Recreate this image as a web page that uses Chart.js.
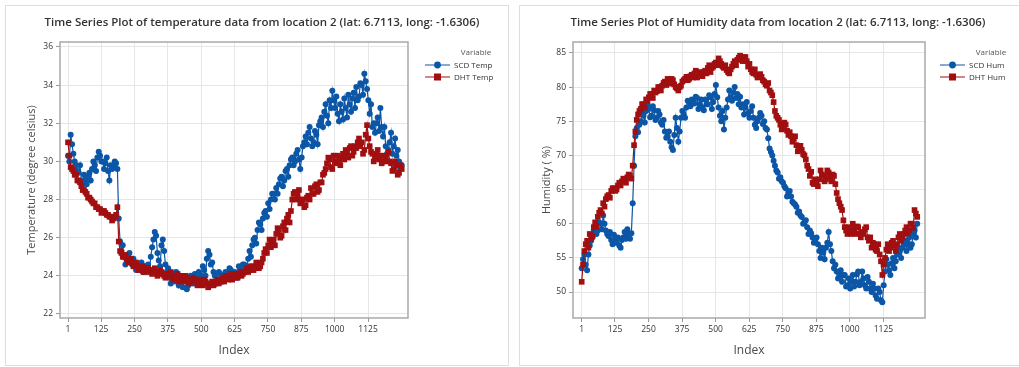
<!DOCTYPE html>
<html>
<head>
<meta charset="utf-8">
<script src="https://cdn.jsdelivr.net/npm/chart.js@4.4.1/dist/chart.umd.min.js"></script>
<style>
  html, body { margin: 0; padding: 0; background: #fff; }
  body { width: 1019px; height: 367px; position: relative; overflow: hidden; }
  .frame { position: absolute; border: 1px solid #dedede; }
  canvas { position: absolute; top: 0; }
</style>
</head>
<body>
<div class="frame" style="left:5px;top:5px;width:502px;height:359px"></div>
<div class="frame" style="left:519px;top:5px;width:505px;height:359px"></div>
<canvas id="tempChart" width="512" height="367" style="left:0"></canvas>
<canvas id="humChart" width="503" height="367" style="left:516px"></canvas>
<script>
// readings every 5th index, estimated off the plot
const indexValues = [
  1, 6, 11, 16, 21, 26, 31, 36, 41, 46,
  51, 56, 61, 66, 71, 76, 81, 86, 91, 96,
  101, 106, 111, 116, 121, 126, 131, 136, 141, 146,
  151, 156, 161, 166, 171, 176, 181, 186, 191, 196,
  201, 206, 211, 216, 221, 226, 231, 236, 241, 246,
  251, 256, 261, 266, 271, 276, 281, 286, 291, 296,
  301, 306, 311, 316, 321, 326, 331, 336, 341, 346,
  351, 356, 361, 366, 371, 376, 381, 386, 391, 396,
  401, 406, 411, 416, 421, 426, 431, 436, 441, 446,
  451, 456, 461, 466, 471, 476, 481, 486, 491, 496,
  501, 506, 511, 516, 521, 526, 531, 536, 541, 546,
  551, 556, 561, 566, 571, 576, 581, 586, 591, 596,
  601, 606, 611, 616, 621, 626, 631, 636, 641, 646,
  651, 656, 661, 666, 671, 676, 681, 686, 691, 696,
  701, 706, 711, 716, 721, 726, 731, 736, 741, 746,
  751, 756, 761, 766, 771, 776, 781, 786, 791, 796,
  801, 806, 811, 816, 821, 826, 831, 836, 841, 846,
  851, 856, 861, 866, 871, 876, 881, 886, 891, 896,
  901, 906, 911, 916, 921, 926, 931, 936, 941, 946,
  951, 956, 961, 966, 971, 976, 981, 986, 991, 996,
  1001, 1006, 1011, 1016, 1021, 1026, 1031, 1036, 1041, 1046,
  1051, 1056, 1061, 1066, 1071, 1076, 1081, 1086, 1091, 1096,
  1101, 1106, 1111, 1116, 1121, 1126, 1131, 1136, 1141, 1146,
  1151, 1156, 1161, 1166, 1171, 1176, 1181, 1186, 1191, 1196,
  1201, 1206, 1211, 1216, 1221, 1226, 1231, 1236, 1241, 1246,
  1251
];

const scdTemp = [
  30.3, 30.0, 31.4, 30.9, 30.4, 30.0, 29.8, 29.5, 29.4, 29.8,
  29.0, 28.8, 29.3, 29.0, 28.8, 29.2, 29.4, 29.0, 29.6, 30.0,
  29.8, 29.5, 30.2, 30.5, 30.3, 30.0, 30.0, 29.6, 29.9, 30.2,
  29.5, 29.0, 29.8, 29.6, 29.7, 30.0, 29.9, 29.6, 27.0, 25.8,
  25.3, 25.6, 25.0, 24.6, 24.8, 25.0, 25.2, 24.7, 24.6, 24.9,
  24.5, 24.3, 24.6, 24.4, 24.3, 24.7, 24.2, 24.5, 24.4, 24.2,
  24.6, 24.3, 25.0, 25.5, 25.9, 26.3, 26.1, 25.2, 24.8, 24.5,
  25.6, 25.9, 25.3, 24.6, 24.2, 24.4, 23.9, 23.6, 24.1, 23.9,
  23.7, 24.2, 23.9, 23.5, 24.0, 23.7, 23.4, 23.8, 23.8, 23.3,
  23.5, 23.9, 24.0, 23.7, 23.6, 24.1, 23.9, 23.6, 24.2, 23.8,
  24.0, 24.5, 24.3, 24.0, 24.9, 25.3, 25.1, 24.6, 24.7, 24.2,
  24.0, 23.6, 23.8, 24.2, 24.1, 23.8, 23.7, 24.0, 24.2, 23.9,
  24.0, 24.4, 24.3, 24.0, 23.9, 24.2, 24.1, 23.9, 24.5, 24.3,
  24.2, 24.6, 24.6, 24.2, 24.4, 24.9, 25.3, 25.0, 25.6, 25.9,
  26.0, 25.7, 26.4, 26.8, 26.7, 26.4, 27.0, 27.3, 27.4, 27.1,
  27.8, 27.5, 28.0, 28.3, 28.3, 28.0, 28.6, 28.3, 28.8, 29.1,
  29.2, 28.7, 29.0, 29.5, 29.6, 29.2, 29.8, 30.1, 30.2, 29.8,
  30.0, 30.4, 30.6, 30.1, 29.6, 30.2, 30.8, 31.0, 31.3, 30.9,
  31.5, 31.8, 31.2, 30.8, 31.0, 31.6, 31.4, 30.9, 31.9, 32.1,
  32.3, 31.8, 32.6, 33.0, 32.4, 32.0, 33.2, 32.8, 33.7, 33.2,
  32.8, 33.4, 32.5, 32.1, 33.0, 32.6, 32.2, 33.3, 32.8, 32.3,
  33.5, 33.0, 32.6, 33.3, 33.6, 32.8, 33.9, 33.2, 33.4, 34.1,
  34.0, 33.5, 34.6, 34.2, 33.8, 33.2, 32.5, 33.0, 31.8, 32.0,
  31.5, 32.0, 32.3, 31.6, 32.8, 31.8, 31.3, 31.8, 30.8, 30.4,
  30.6, 31.0, 31.5, 30.4, 30.8, 31.2, 30.3, 30.6, 30.0, 29.6,
  29.8
];

const dhtTemp = [
  31.0, 30.3, 29.7, 29.6, 29.5, 29.3, 29.3, 29.0, 29.0, 28.9,
  28.7, 28.5, 28.5, 28.4, 28.3, 28.1, 28.1, 28.0, 27.9, 27.8,
  27.8, 27.6, 27.6, 27.5, 27.5, 27.3, 27.4, 27.4, 27.3, 27.2,
  27.2, 27.1, 27.1, 26.9, 27.0, 27.1, 27.2, 27.6, 25.8, 25.3,
  25.2, 25.0, 25.0, 25.1, 24.9, 24.7, 24.8, 24.9, 24.7, 24.5,
  24.6, 24.7, 24.5, 24.3, 24.4, 24.5, 24.5, 24.2, 24.3, 24.4,
  24.4, 24.3, 24.2, 24.1, 24.3, 24.4, 24.2, 24.0, 24.1, 24.3,
  24.2, 24.1, 24.0, 23.9, 24.1, 24.0, 24.0, 24.2, 23.9, 23.8,
  24.0, 23.9, 24.1, 23.7, 23.8, 24.0, 23.9, 23.7, 24.0, 23.9,
  23.8, 23.6, 23.7, 23.8, 23.9, 23.7, 23.8, 23.5, 23.6, 23.8,
  23.7, 23.5, 23.8, 23.7, 23.6, 23.4, 23.5, 23.6, 23.7, 23.5,
  23.6, 23.7, 23.8, 23.6, 23.7, 23.8, 23.9, 23.7, 24.0, 23.9,
  23.8, 24.0, 24.1, 23.8, 23.9, 24.1, 24.0, 23.9, 24.1, 24.2,
  24.0, 24.1, 24.2, 24.3, 24.4, 24.2, 24.3, 24.5, 24.5, 24.3,
  24.4, 24.7, 24.6, 24.4, 24.5, 24.7, 24.9, 25.2, 25.4, 25.2,
  25.6, 25.9, 25.5, 25.8, 25.9, 25.6, 26.2, 26.5, 26.4, 26.0,
  26.1, 26.6, 26.8, 26.4, 27.0, 27.2, 26.8, 27.4, 28.0, 28.3,
  28.4, 28.0, 28.2, 28.5, 27.8, 28.0, 28.0, 27.6, 27.7, 28.1,
  28.2, 28.0, 28.6, 28.3, 28.3, 28.7, 28.8, 28.4, 28.5, 28.9,
  28.9, 29.3, 29.4, 29.6, 29.9, 30.2, 30.1, 29.7, 29.6, 30.3,
  30.0, 29.9, 30.3, 30.0, 29.8, 30.2, 30.4, 30.1, 30.6, 30.4,
  30.2, 30.7, 30.8, 30.3, 30.5, 30.8, 30.7, 31.0, 31.2, 30.8,
  31.0, 30.4, 30.6, 31.4, 31.9, 31.2, 30.8, 30.5, 30.4, 30.0,
  30.2, 30.4, 30.6, 30.1, 30.3, 29.9, 30.0, 30.3, 30.2, 30.0,
  30.5, 30.0, 29.9, 29.5, 29.6, 30.0, 29.8, 29.3, 29.4, 29.8,
  29.6
];

const scdHum = [
  53.5, 54.8, 55.5, 54.0, 53.2, 55.5, 56.8, 57.5, 58.0, 59.0,
  59.5, 58.5, 59.0, 60.2, 60.0, 59.2, 61.2, 60.0, 59.0, 58.5,
  58.2, 58.8, 57.6, 57.0, 58.4, 57.6, 57.2, 58.0, 56.8, 56.5,
  57.6, 58.0, 58.8, 57.8, 59.2, 58.5, 57.8, 58.6, 63.0, 68.5,
  72.8, 74.0, 73.4, 74.5, 75.0, 76.2, 75.8, 74.8, 76.5, 77.5,
  76.8, 75.6, 75.8, 77.2, 76.6, 75.2, 75.5, 76.5, 76.0, 74.8,
  74.5, 75.2, 73.5, 72.6, 72.8, 73.5, 72.0, 71.2, 70.8, 73.0,
  75.5, 74.0, 72.0, 73.5, 75.5, 76.5, 76.0, 75.5, 77.0, 78.0,
  77.8, 77.2, 78.2, 77.8, 77.6, 78.6, 78.4, 76.8, 77.5, 78.2,
  77.0, 76.6, 78.2, 77.5, 77.5, 78.8, 78.5, 76.8, 77.8, 79.0,
  80.3, 78.5, 77.0, 75.8, 75.0, 76.5, 73.8, 75.5, 77.0, 78.2,
  79.5, 78.5, 78.0, 79.2, 80.0, 78.4, 79.0, 77.5, 78.6, 77.0,
  77.5, 76.0, 77.0, 77.8, 76.2, 75.5, 76.5, 77.2, 75.5, 74.5,
  74.0, 75.0, 75.5, 76.2, 75.8, 74.6, 75.0, 74.0, 73.8, 72.5,
  71.0, 70.5, 70.0, 69.2, 68.5, 67.8, 67.5, 66.6, 66.8, 66.2,
  66.0, 65.5, 65.2, 64.0, 64.5, 64.8, 64.0, 63.2, 63.0, 62.8,
  62.5, 61.6, 61.8, 61.2, 61.0, 60.0, 60.2, 60.5, 59.5, 58.5,
  59.0, 58.6, 58.0, 57.2, 57.5, 58.0, 57.0, 56.0, 55.0, 56.5,
  55.8, 54.8, 56.5, 57.2, 58.8, 57.0, 56.0, 54.5, 53.5, 54.0,
  53.0, 52.0, 52.5, 53.2, 51.5, 52.5, 52.5, 50.8, 51.0, 52.0,
  50.5, 51.5, 52.5, 50.8, 51.5, 52.6, 53.0, 51.0, 51.5, 53.0,
  52.0, 51.0, 50.5, 52.2, 51.5, 50.5, 50.0, 51.2, 50.5, 49.5,
  49.0, 50.5, 50.0, 48.8, 48.5, 51.0, 53.0, 54.8, 54.0, 53.2,
  52.5, 54.2, 55.0, 53.5, 54.5, 55.5, 56.5, 56.0, 55.0, 56.5,
  57.0, 57.5, 56.0, 57.0, 58.0, 56.5, 57.0, 58.5, 59.0, 58.0,
  60.0
];

const dhtHum = [
  51.5, 54.0, 56.0, 57.0, 57.5, 56.5, 58.5, 57.8, 58.2, 59.5,
  60.2, 59.6, 61.0, 61.6, 62.0, 61.5, 63.0, 62.5, 63.6, 64.0,
  64.2, 63.8, 64.8, 65.2, 65.2, 64.8, 65.0, 65.6, 66.0, 65.6,
  66.2, 66.6, 66.5, 66.0, 66.8, 67.2, 67.0, 66.6, 68.5, 71.5,
  73.5, 75.2, 76.0, 76.5, 76.8, 77.5, 77.5, 77.0, 78.2, 78.0,
  78.5, 79.0, 79.0, 78.4, 79.5, 79.2, 79.4, 80.0, 80.0, 79.5,
  80.2, 80.6, 80.8, 80.3, 81.2, 80.8, 80.5, 81.2, 81.0, 80.4,
  80.0, 79.8, 79.5, 80.0, 80.2, 80.8, 81.0, 81.2, 81.5, 81.0,
  81.2, 81.6, 81.8, 81.4, 82.0, 82.4, 81.4, 82.0, 82.2, 81.8,
  81.6, 82.2, 82.4, 82.0, 82.8, 83.2, 82.2, 82.8, 83.0, 83.4,
  83.6, 83.2, 84.2, 83.8, 83.4, 83.0, 82.8, 83.2, 82.5, 82.2,
  82.0, 82.6, 83.0, 83.4, 83.8, 83.2, 84.0, 84.3, 84.6, 84.0,
  83.8, 84.4, 84.4, 83.8, 83.0, 83.4, 82.6, 82.2, 82.0, 82.6,
  81.8, 81.4, 81.5, 81.9, 81.5, 81.0, 80.8, 80.4, 80.2, 80.6,
  79.5, 79.2, 78.8, 77.8, 76.5, 75.8, 75.5, 75.2, 74.5, 73.8,
  74.0, 74.8, 74.5, 73.6, 73.0, 73.4, 72.8, 72.0, 72.5, 72.8,
  71.5, 70.6, 71.0, 71.4, 70.8, 70.2, 70.0, 69.4, 68.5, 68.0,
  67.0, 67.6, 66.0, 65.8, 66.5, 65.8, 65.5, 66.5, 67.8, 67.2,
  67.0, 66.2, 66.5, 67.8, 67.5, 66.8, 66.2, 67.2, 67.0, 65.8,
  64.5, 63.6, 63.0, 62.5, 62.0, 60.5, 59.5, 59.0, 58.5, 59.5,
  59.0, 58.5, 60.0, 59.2, 58.5, 59.6, 59.5, 58.6, 58.0, 58.8,
  58.5, 59.2, 59.5, 58.0, 57.5, 58.0, 56.5, 57.2, 57.0, 56.2,
  56.0, 57.0, 55.5, 54.5, 52.5, 54.0, 55.0, 56.2, 57.0, 56.0,
  56.5, 57.2, 57.5, 56.8, 56.0, 57.0, 58.0, 58.5, 57.5, 58.0,
  58.5, 59.0, 59.5, 58.6, 59.0, 60.0, 60.0, 59.4, 62.0, 61.5,
  61.0
];

const xTickLabels = [1, 125, 250, 375, 500, 625, 750, 875, 1000, 1125];
const tempTicks = [22, 24, 26, 28, 30, 32, 34, 36];
const humTicks = [50, 55, 60, 65, 70, 75, 80, 85];

const BLUE = '#0b56a6';
const RED = '#a20f10';

Chart.defaults.font.family = '"Open Sans", sans-serif';

// box round the plot area, title and the "Variable" legend
const panelDecor = {
  id: 'panelDecor',
  afterDraw(chart, args, opts) {
    const { ctx, chartArea: a } = chart;
    ctx.save();
    ctx.strokeStyle = '#a9a9a9';
    ctx.lineWidth = 1.5;
    ctx.strokeRect(a.left, a.top, a.right - a.left, a.bottom - a.top);

    ctx.fillStyle = '#333';
    ctx.font = '600 11.5px "Open Sans"';
    ctx.textAlign = 'center';
    ctx.textBaseline = 'middle';
    ctx.fillText(opts.title, opts.titleX, 23);

    const lx = opts.legendX;
    ctx.font = '8px "Open Sans"';
    ctx.fillStyle = '#555';
    ctx.fillText('Variable', lx + 51, 53);
    ctx.textAlign = 'left';
    chart.data.datasets.forEach((ds, i) => {
      const y = 65 + i * 12;
      ctx.strokeStyle = ds.borderColor;
      ctx.lineWidth = 1;
      ctx.beginPath();
      ctx.moveTo(lx, y);
      ctx.lineTo(lx + 25, y);
      ctx.stroke();
      ctx.fillStyle = ds.borderColor;
      if (ds.pointStyle === 'rect') {
        ctx.fillRect(lx + 9, y - 3.5, 7, 7);
      } else {
        ctx.beginPath();
        ctx.arc(lx + 12.5, y, 3.4, 0, Math.PI * 2);
        ctx.fill();
      }
      ctx.fillStyle = '#333';
      ctx.fillText(ds.label, lx + 29, y + 0.5);
    });
    ctx.restore();
  }
};

function makeChart(id, cfg) {
  const toPoints = arr => indexValues.map((x, i) => ({ x: x, y: arr[i] }));
  return new Chart(document.getElementById(id), {
    type: 'line',
    data: {
      datasets: [
        {
          label: cfg.labels[0],
          data: toPoints(cfg.scd),
          borderColor: BLUE,
          backgroundColor: BLUE,
          borderWidth: 1.2,
          pointStyle: 'circle',
          pointRadius: 3,
          pointBorderWidth: 0,
          order: 2,
        },
        {
          label: cfg.labels[1],
          data: toPoints(cfg.dht),
          borderColor: RED,
          backgroundColor: RED,
          borderWidth: 1.2,
          pointStyle: 'rect',
          pointRadius: 4,
          pointBorderWidth: 0,
          order: 1,
        },
      ],
    },
    options: {
      responsive: false,
      animation: false,
      layout: { padding: { left: cfg.padLeft, right: cfg.padRight, top: 42, bottom: 0 } },
      scales: {
        x: {
          type: 'linear',
          min: cfg.xMin,
          max: cfg.xMax,
          afterBuildTicks: s => { s.ticks = xTickLabels.map(v => ({ value: v })); },
          afterFit: s => { s.height = 49; },
          ticks: { color: '#333', font: { size: 8.5 }, padding: 2, maxRotation: 0, callback: v => String(v) },
          grid: { color: '#e6e6e6', tickColor: '#999', tickLength: 4 },
          border: { display: false },
          title: { display: true, text: 'Index', color: '#4a4a4a', font: { size: 12 }, padding: { top: 0, bottom: 9 } },
        },
        y: {
          min: cfg.yMin,
          max: cfg.yMax,
          afterBuildTicks: s => { s.ticks = cfg.yTicks.map(v => ({ value: v })); },
          afterFit: s => { s.width = cfg.plotLeft - cfg.padLeft; },
          ticks: { color: '#333', font: { size: 8.5 }, padding: 3 },
          grid: { color: '#e6e6e6', tickColor: '#999', tickLength: 4 },
          border: { display: false },
          title: { display: true, text: cfg.yTitle, color: '#4a4a4a', font: { size: 11 }, padding: { top: 0, bottom: 0 } },
        },
      },
      plugins: {
        legend: { display: false },
        tooltip: { enabled: false },
        panelDecor: { title: cfg.title, titleX: cfg.titleX, legendX: cfg.legendX },
      },
    },
    plugins: [panelDecor],
  });
}

makeChart('tempChart', {
  scd: scdTemp, dht: dhtTemp,
  labels: ['SCD Temp', 'DHT Temp'],
  title: 'Time Series Plot of temperature data from location 2 (lat: 6.7113, long: -1.6306)',
  titleX: 262, legendX: 425,
  yTitle: 'Temperature (degree celsius)',
  yTicks: tempTicks, yMin: 21.79, yMax: 36.26,
  xMin: -29, xMax: 1274.5,
  padLeft: 25, padRight: 104, plotLeft: 60,
});

makeChart('humChart', {
  scd: scdHum, dht: dhtHum,
  labels: ['SCD Hum', 'DHT Hum'],
  title: 'Time Series Plot of Humidity data from location 2 (lat: 6.7113, long: -1.6306)',
  titleX: 262, legendX: 424,
  yTitle: 'Humidity ( %)',
  yTicks: humTicks, yMin: 46.2, yMax: 86.6,
  xMin: -31.4, xMax: 1280,
  padLeft: 24, padRight: 94, plotLeft: 57,
});
</script>
</body>
</html>
